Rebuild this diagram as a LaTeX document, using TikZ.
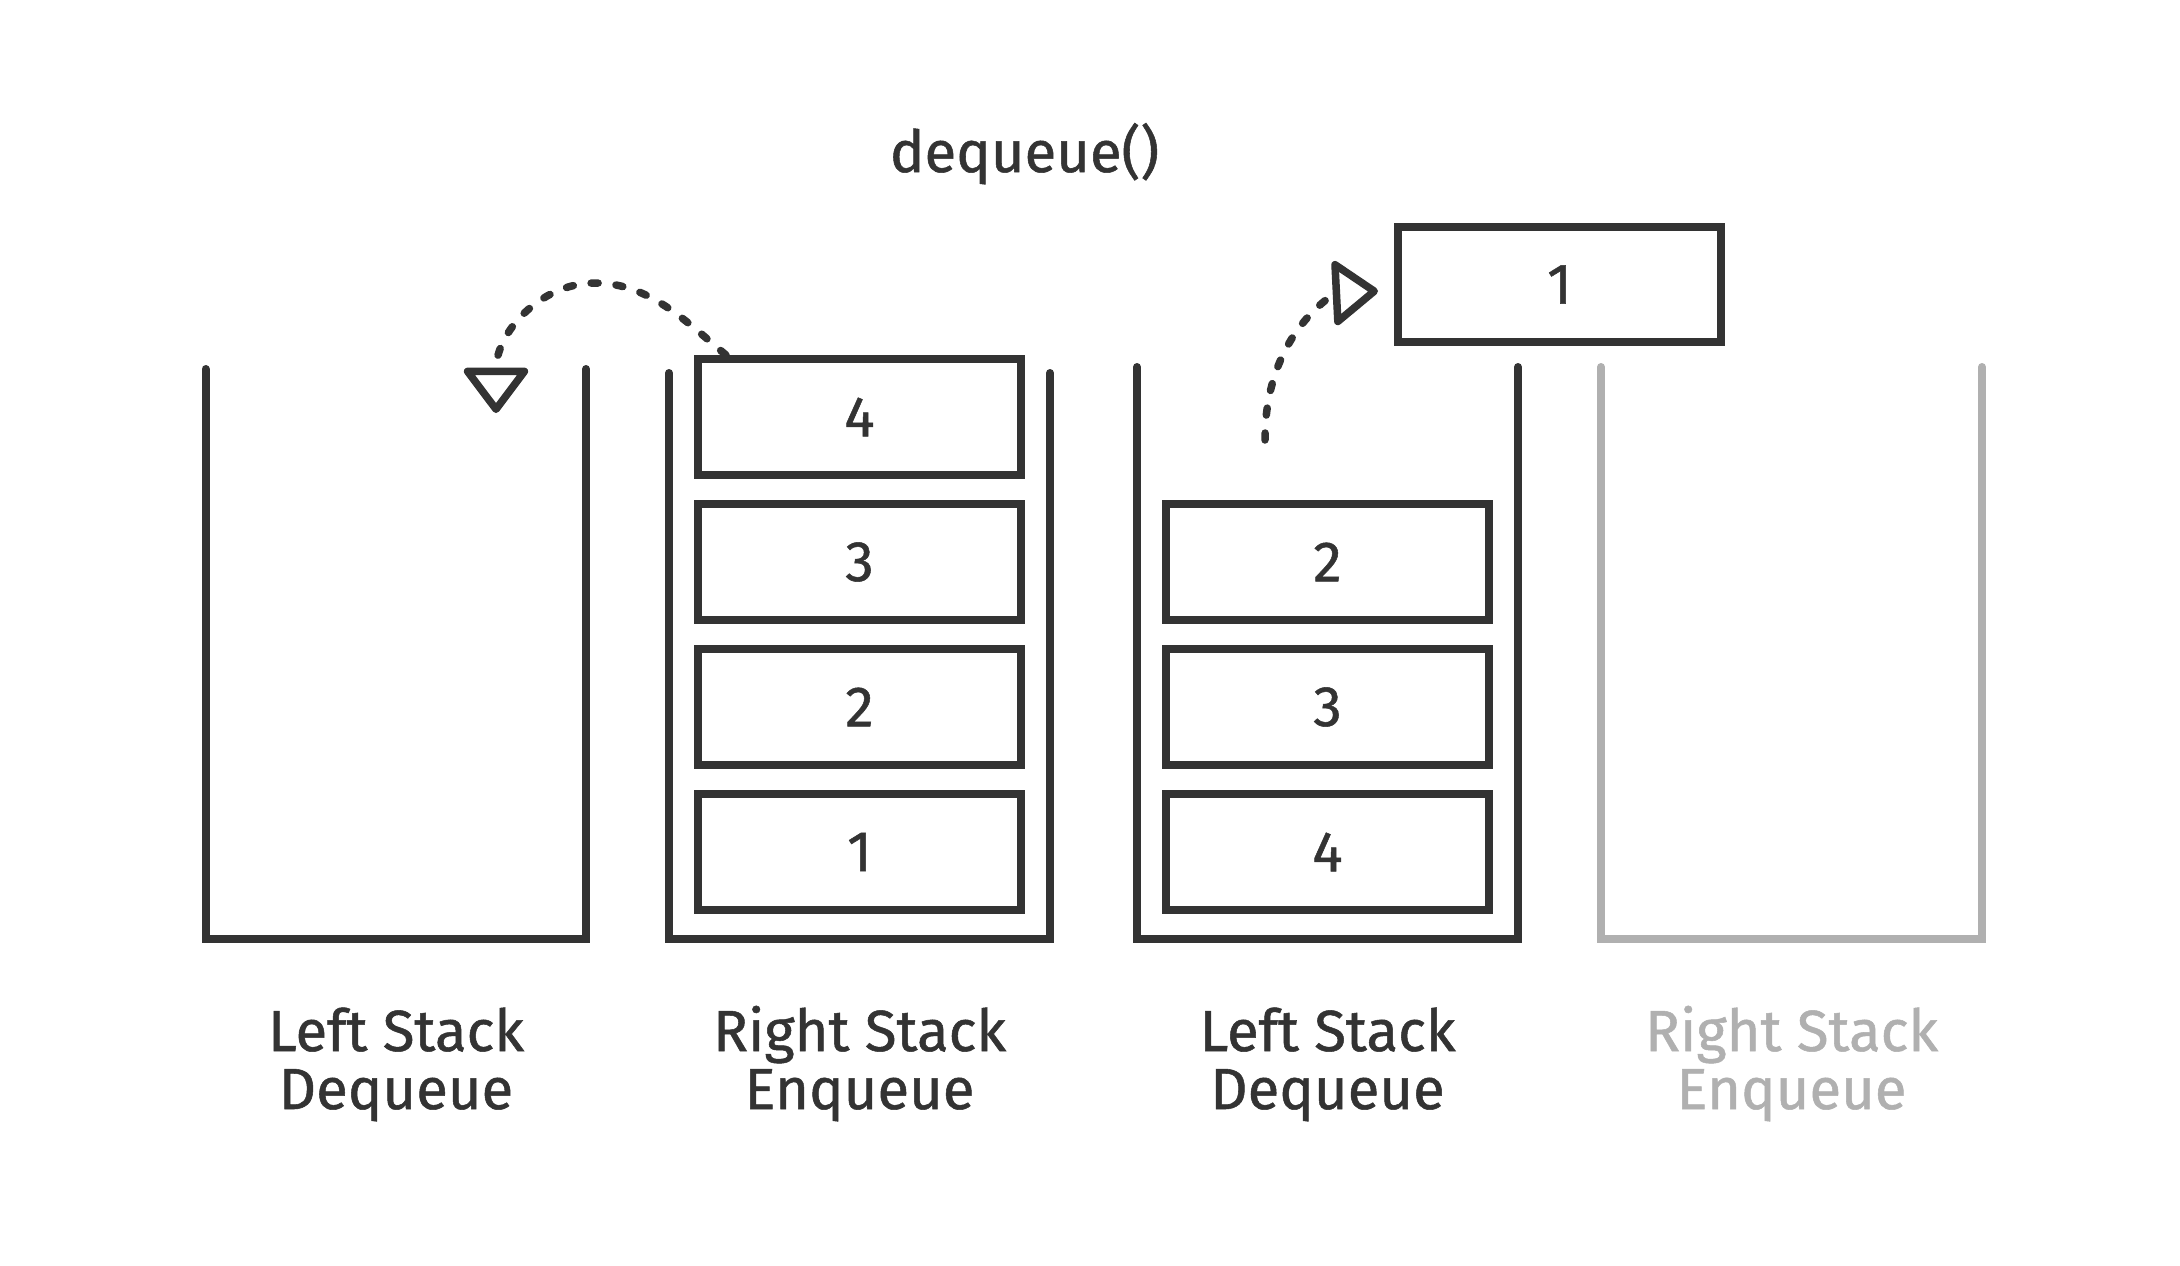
\documentclass[tikz,border=0pt]{standalone}
\usepackage{fontspec}
\setmainfont{Fira Sans}[FakeBold=0.9]
\usetikzlibrary{arrows.meta,calc}
\definecolor{ink}{HTML}{333333}
\definecolor{faint}{HTML}{B0B0B0}
\begin{document}
\begin{tikzpicture}[x=1pt,y=-1pt,
  wall/.style={draw=ink, line width=8pt, line cap=round, line join=miter},
  cell/.style={draw=ink, line width=8pt, minimum width=323pt, minimum height=116pt,
    inner sep=0pt, text=ink, font=\fontsize{57}{60}\selectfont},
  caption/.style={text=ink, align=center, anchor=base, inner sep=0pt,
    font=\fontsize{58}{58}\selectfont},
  flow/.style={draw=ink, line width=7.5pt, line cap=round,
    dash pattern=on 7pt off 18pt,
    -{Triangle[open,length=48pt,width=70pt,round]}},
]
\fill[white] (0,0) rectangle (2180,1266);
\useasboundingbox (0,0) rectangle (2180,1266);

% stacks
\draw[wall] (205.5,369) -- (205.5,939) -- (586,939) -- (586,369);
\draw[wall] (669,373) -- (669,939) -- (1050,939) -- (1050,373);
\draw[wall] (1137,367) -- (1137,939) -- (1518,939) -- (1518,367);
\draw[wall, draw=faint] (1601,367) -- (1601,939) -- (1982,939) -- (1982,367);

% right stack (enqueue) cells
\node[cell] (r4) at (859.5,417) {4};
\node[cell] (r3) at (859.5,562) {3};
\node[cell] (r2) at (859.5,707) {2};
\node[cell] (r1) at (859.5,852) {1};

% left stack (dequeue) cells
\node[cell] (l2) at (1327.5,562) {2};
\node[cell] (l3) at (1327.5,707) {3};
\node[cell] (l4) at (1327.5,852) {4};

% popped element
\node[cell, minimum height=115pt] (out) at (1559.5,284.5) {1};

% title
\node[text=ink, anchor=base, inner sep=0pt, font=\fontsize{58}{60}\selectfont]
  (title) at (1024.5,172) {dequeue()};

% captions (base = baseline of the last line)
\node[caption] (c1) at (396,1109) {Left Stack\\Dequeue};
\node[caption] (c2) at (859.5,1109) {Right Stack\\Enqueue};
\node[caption] (c3) at (1327.5,1109) {Left Stack\\Dequeue};
\node[caption, text=faint] (c4) at (1791.5,1109) {Right Stack\\Enqueue};

% arrows
\coordinate (tipA) at (496,413);
\coordinate (apexA) at (595,283);
\coordinate (srcB) at (1265,440);
\coordinate (tipB) at (1378,291);
\draw[flow] ($(r4.north)+(-133.5,0)$) .. controls +(-38.5,-32) and +(55,0) .. (apexA)
  .. controls +(-55,0) and +(0,-80) .. (tipA);
\draw[flow] (srcB) .. controls +(0,-110) and +(-40,2) .. (tipB);
\end{tikzpicture}
\end{document}
